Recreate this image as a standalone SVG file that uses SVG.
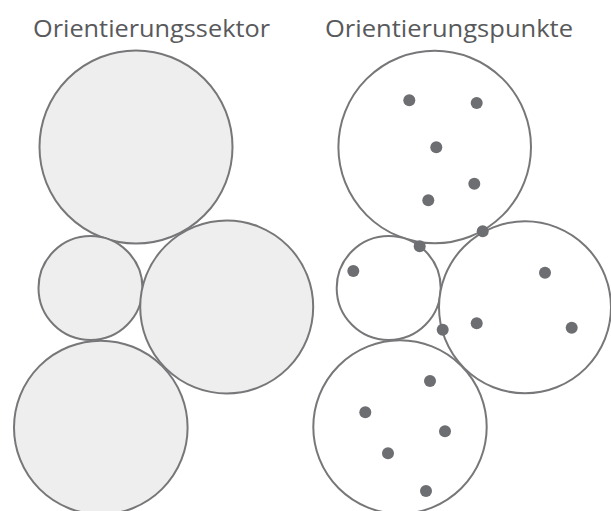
<svg xmlns="http://www.w3.org/2000/svg" width="611" height="511" viewBox="0 0 611 511">
  <style>
    .title { font-family: "Open Sans", "Noto Sans", "Liberation Sans", sans-serif; font-size: 23px; fill: #58595b; }
    .sector { fill: #eeeeee; stroke: #77777a; stroke-width: 2; }
    .ring { fill: #ffffff; stroke: #77777a; stroke-width: 2; }
    .pt { fill: #6d6e71; }
  </style>
  <rect width="611" height="511" fill="#ffffff"/>

  <!-- Headings -->
  <text class="title" x="33" y="37" textLength="237" lengthAdjust="spacingAndGlyphs">Orientierungssektor</text>
  <text class="title" x="325" y="37" textLength="248" lengthAdjust="spacingAndGlyphs">Orientierungspunkte</text>

  <!-- Left panel: filled sectors -->
  <g id="sectors">
    <circle class="sector" cx="136" cy="147" r="96.5"/>
    <circle class="sector" cx="90.5" cy="288" r="52"/>
    <circle class="sector" cx="226.7" cy="307" r="86.5"/>
    <circle class="sector" cx="100.8" cy="427.5" r="86.8"/>
  </g>

  <!-- Right panel: outlined sectors -->
  <g id="rings">
    <circle class="ring" cx="434.7" cy="147" r="96.3"/>
    <circle class="ring" cx="388.7" cy="288" r="52"/>
    <circle class="ring" cx="525" cy="307.3" r="86"/>
    <circle class="ring" cx="400" cy="427" r="86.7"/>
  </g>

  <!-- Orientation points -->
  <g id="points">
    <circle class="pt" cx="409.3" cy="100.3" r="6"/>
    <circle class="pt" cx="476.7" cy="103" r="6"/>
    <circle class="pt" cx="436.3" cy="147.3" r="6"/>
    <circle class="pt" cx="474.3" cy="183.7" r="6"/>
    <circle class="pt" cx="428.3" cy="200.3" r="6"/>
    <circle class="pt" cx="482.7" cy="231.3" r="6"/>
    <circle class="pt" cx="419.7" cy="246.3" r="6"/>
    <circle class="pt" cx="353.3" cy="271" r="6"/>
    <circle class="pt" cx="545" cy="272.7" r="6"/>
    <circle class="pt" cx="476.7" cy="323.3" r="6"/>
    <circle class="pt" cx="571.7" cy="327.7" r="6"/>
    <circle class="pt" cx="442.7" cy="329.7" r="6"/>
    <circle class="pt" cx="430" cy="381" r="6"/>
    <circle class="pt" cx="365.3" cy="412.3" r="6"/>
    <circle class="pt" cx="445" cy="431.3" r="6"/>
    <circle class="pt" cx="388" cy="453.3" r="6"/>
    <circle class="pt" cx="426" cy="491" r="6"/>
  </g>
</svg>
